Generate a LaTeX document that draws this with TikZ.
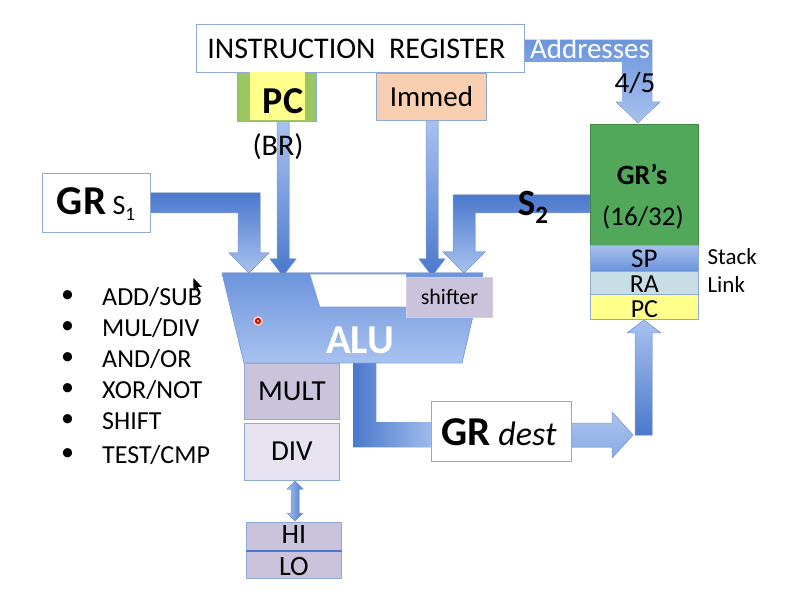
\documentclass[tikz,border=0pt]{standalone}
\usepackage{fontspec}
\setmainfont{Carlito}
\usetikzlibrary{calc}
\definecolor{blueD}{HTML}{4A78CC}
\definecolor{blueM}{HTML}{6C95DC}
\definecolor{blueL}{HTML}{A8C2EF}
\definecolor{blueE}{HTML}{7EA0DE}
\definecolor{grgreen}{HTML}{52A85A}
\definecolor{pcgreen}{HTML}{9BC763}
\definecolor{pcyellow}{HTML}{FFFF8C}
\definecolor{peach}{HTML}{F8CFB0}
\definecolor{lav}{HTML}{CBC3DB}
\definecolor{lavL}{HTML}{E6E2EF}
\definecolor{ralight}{HTML}{C7DEE6}
\definecolor{boxedge}{HTML}{8EA9D6}
\tikzset{
  fs/.style={font=\fontsize{#1}{#1}\selectfont},
  box/.style={draw=boxedge, line width=0.8pt, inner sep=0pt, anchor=north west},
  blk/.style={draw=blueE, line width=0.5pt},
  bullet/.style={anchor=west, fs=26, inner sep=0pt},
}
\begin{document}
\begin{tikzpicture}[x=1pt,y=-1pt]
\useasboundingbox[fill=white] (0,0) rectangle (788,604);

% ---------- block arrows (under boxes) ----------
% Addresses
\fill[top color=blueM, bottom color=blueL]
  (524,40) -- (652,40) -- (652,102) -- (660,102) -- (638,123) -- (616,102)
  -- (622,102) -- (622,62) -- (524,62) -- cycle;
% PC -> ALU
\filldraw[blk, top color=blueL, bottom color=blueD]
  (277,121) -- (289,121) -- (289,259) -- (296,259) -- (283,276) -- (270,259) -- (277,259) -- cycle;
% Immed -> shifter
\filldraw[blk, top color=blueL, bottom color=blueD]
  (426,121) -- (438,121) -- (438,259) -- (445,259) -- (432,276) -- (419,259) -- (426,259) -- cycle;
% GR S1 -> ALU
\filldraw[blk, top color=blueD, bottom color=blueL]
  (150,193) -- (260,193) -- (260,253) -- (269,253) -- (249,273) -- (229,253)
  -- (238,253) -- (238,213) -- (150,213) -- cycle;
% S2 -> shifter
\filldraw[blk, top color=blueD, bottom color=blueL]
  (590,195) -- (453,195) -- (453,252) -- (443,252) -- (464,273) -- (485,252)
  -- (475,252) -- (475,213) -- (590,213) -- cycle;
% ALU -> GR dest
\fill[left color=blueD, right color=blueL!90!blueD]
  (353,360) -- (376,360) -- (376,422) -- (431,422) -- (431,447) -- (353,447) -- cycle;
% GR dest -> PC
\filldraw[blk, top color=blueL, bottom color=blueL!70!blueD]
  (571,423) -- (612,423) -- (612,412) -- (633,435) -- (612,458) -- (612,447) -- (571,447) -- cycle;
\filldraw[blk, top color=blueL, bottom color=blueD]
  (635,435) -- (635,333) -- (627,333) -- (644,320) -- (661,333) -- (652,333) -- (652,435) -- cycle;

% ---------- instruction register ----------
\node[box, fill=white, minimum width=328pt, minimum height=48pt] (ir) at (196,24) {};
\node[fs=30] at ($(ir.center)+(-4,0)$) {INSTRUCTION\ \ REGISTER};
\node[fs=29, text=white, inner sep=0pt] (addr) at (590,49) {Addresses};
\node[fs=29, inner sep=0pt] (four) at (635,83) {4/5};

% PC top
\node[box, fill=pcgreen, minimum width=79pt, minimum height=49pt] (pcbox) at (237,72) {};
\fill[pcyellow] (250,72.5) rectangle (305,120.5);
\node[font=\fontsize{38}{38}\selectfont\bfseries] at (283,101) {PC};
\node[fs=30] (br) at (278,147) {(BR)};
% Immed
\node[box, fill=peach, minimum width=110pt, minimum height=47pt] (immed) at (376,73) {};
\node[fs=29] at (immed.center) {Immed};

% GR S1
\node[box, fill=white, minimum width=108pt, minimum height=59pt] (grs1) at (42,173) {};
\node[inner sep=0pt] at (96,204) {\fontsize{41}{41}\selectfont\bfseries GR\mdseries\fontsize{28}{28}\selectfont\ S\raisebox{-6pt}{\fontsize{19}{19}\selectfont 1}};

% S2
\node[inner sep=0pt] (s2) at (533,207) {\fontsize{37}{37}\selectfont\bfseries S\raisebox{-8pt}{\fontsize{25}{25}\selectfont 2}};

% ---------- ALU ----------
\filldraw[draw=blueE, line width=0.6pt, top color=blueM, bottom color=blueL]
  (222,273) -- (483,273) -- (462,363) -- (244,363) -- cycle;
\fill[white] (310,274.5) -- (406,274.5) -- (406,307) -- (320,307) -- cycle;
\draw[blueE, line width=0.5pt] (310,274.5) -- (320,307) -- (406,307);
\node[box, draw=lav!80!white, fill=lav, minimum width=86pt, minimum height=40pt] (shifter) at (406,277) {};
\node[fs=22] at (shifter.center) {shifter};
\node[text=white, font=\fontsize{41}{41}\selectfont\bfseries] (alu) at (360,340) {ALU};
% pointer dot
\fill[red!25] (258,321) circle (5);
\fill[red!80!black] (258,321) circle (3);
\fill[yellow!70] (258,321) circle (1.2);
% mouse cursor
\filldraw[fill=black, draw=white, line width=0.6pt]
  (193,277) -- (193,292) -- (196.5,288.5) -- (199,294) -- (201,293) -- (198.5,287.5) -- (203,287.5) -- cycle;

% MULT / DIV / HI / LO
\node[box, fill=lav, minimum width=95pt, minimum height=56pt] (mult) at (244,363) {};
\node[fs=29] at (mult.center) {MULT};
\node[box, fill=lavL, minimum width=95pt, minimum height=57pt] (div) at (244,423) {};
\node[fs=29] at ($(div.center)+(0,-1)$) {DIV};
\filldraw[blk, left color=blueL, right color=blueD]
  (295,481) -- (303,489) -- (299,489) -- (299,513) -- (303,513) -- (295,521)
  -- (287,513) -- (291,513) -- (291,489) -- (287,489) -- cycle;
\node[box, fill=lav, minimum width=95pt, minimum height=28pt] (hi) at (246,522) {};
\node[box, fill=lav, minimum width=95pt, minimum height=28pt] (lo) at (246,550) {};
\draw[blueD, line width=2pt] (hi.south west) -- (hi.south east);
\node[fs=28] at ($(hi.center)+(0,-2)$) {HI};
\node[fs=28] at ($(lo.center)+(0,2)$) {LO};

% GR dest
\node[box, fill=white, minimum width=140pt, minimum height=60pt] (grdest) at (431,401) {};
\node[inner sep=0pt] at (499,432) {\fontsize{41}{41}\selectfont\bfseries GR\mdseries\itshape\fontsize{34}{34}\selectfont\ dest};

% ---------- register file ----------
\node[box, draw=grgreen!80!black, fill=grgreen, minimum width=108pt, minimum height=121pt] (grs) at (590,124) {};
\node[font=\fontsize{28}{28}\selectfont\bfseries] at (642,174) {GR’s};
\node[fs=27] at (643,217) {(16/32)};
\node[box, top color=blueL, bottom color=blueM!90!blueD, minimum width=108pt, minimum height=26pt] (sp) at (590,245) {};
\node[fs=27] at ($(sp.center)+(0,0)$) {SP};
\node[box, fill=ralight, minimum width=108pt, minimum height=23pt] (ra) at (590,271) {};
\node[fs=26] at ($(ra.center)+(0,1)$) {RA};
\node[box, fill=pcyellow, minimum width=108pt, minimum height=25pt] (pc2) at (590,294) {};
\node[fs=26] at ($(pc2.center)+(0,2)$) {PC};
\node[anchor=west, fs=23] (stack) at (704,257) {Stack};
\node[anchor=west, fs=23] (link) at (704,285) {Link};

% ---------- operation list ----------
\node[bullet] (b1d) at (61,297) {•}; \node[bullet] (b1) at (102,297) {ADD/SUB};
\node[bullet] (b2d) at (61,328) {•}; \node[bullet] (b2) at (102,328) {MUL/DIV};
\node[bullet] (b3d) at (61,359) {•}; \node[bullet] (b3) at (102,359) {AND/OR};
\node[bullet] (b4d) at (61,390) {•}; \node[bullet] (b4) at (102,390) {XOR/NOT};
\node[bullet] (b5d) at (61,421) {•}; \node[bullet] (b5) at (102,421) {SHIFT};
\node[bullet] (b6d) at (61,455) {•}; \node[bullet] (b6) at (102,455) {TEST/CMP};
\end{tikzpicture}
\end{document}
